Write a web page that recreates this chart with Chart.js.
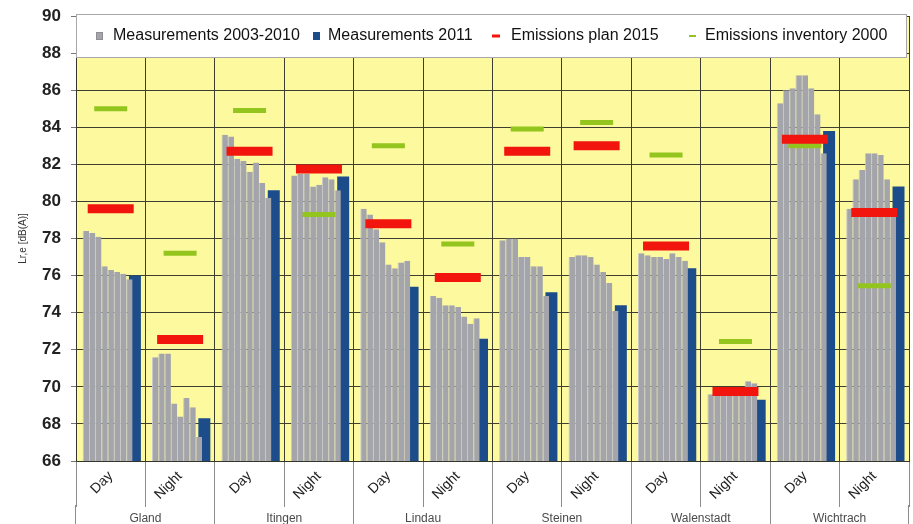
<!DOCTYPE html>
<html>
<head>
<meta charset="utf-8">
<title>Lr,e measurements by site</title>
<script src="https://cdn.jsdelivr.net/npm/chart.js@4/dist/chart.umd.min.js"></script>
<style>
  html, body { margin: 0; padding: 0; background: #ffffff; }
  #wrap { position: relative; width: 913px; height: 524px; }
</style>
</head>
<body>
<div id="wrap"><canvas id="chart"></canvas></div>
<script>
// Categories: day / night periods per site
const periods = ['Day', 'Night', 'Day', 'Night', 'Day', 'Night', 'Day', 'Night', 'Day', 'Night', 'Day', 'Night'];
const sites = ['Gland', 'Itingen', 'Lindau', 'Steinen', 'Walenstadt', 'Wichtrach'];

// Measured Lr,e per year, dB(A)
const m2003 = [78.4, 71.6, 83.6, 81.4, 79.6, 74.9, 77.9, 77.0, 77.2, 69.6, 85.3, 79.6];
const m2004 = [78.3, 71.8, 83.5, 81.5, 79.3, 74.8, 78.0, 77.1, 77.1, 69.6, 86.0, 81.2];
const m2005 = [78.1, 71.8, 82.3, 81.5, 78.5, 74.4, 78.0, 77.1, 77.0, 69.6, 86.1, 81.7];
const m2006 = [76.5, 69.1, 82.2, 80.8, 77.8, 74.4, 77.0, 77.0, 77.0, 69.6, 86.8, 82.6];
const m2007 = [76.3, 68.4, 81.6, 80.9, 76.6, 74.3, 77.0, 76.6, 76.9, 69.7, 86.8, 82.6];
const m2008 = [76.2, 69.4, 82.1, 81.3, 76.4, 73.8, 76.5, 76.2, 77.2, 69.6, 86.1, 82.5];
const m2009 = [76.1, 68.9, 81.0, 81.2, 76.7, 73.4, 76.5, 75.6, 77.0, 70.3, 84.7, 81.2];
const m2010 = [75.8, 67.3, 80.2, 80.6, 76.8, 73.7, 74.9, 74.1, 76.8, 70.2, 82.6, 79.5];
const m2011 = [76.0, 68.3, 80.6, 81.35, 75.4, 72.6, 75.1, 74.4, 76.4, 69.3, 83.8, 80.8];

// Reference levels
const plan2015 = [79.6, 72.55, 82.7, 81.75, 78.8, 75.9, 82.7, 83.0, 77.6, 69.75, 83.35, 79.4];
const inventory2000 = [85.0, 77.2, 84.9, 79.3, 83.0, 77.7, 83.9, 84.25, 82.5, 72.45, 83.0, 75.45];

// Value axis
const yMin = 66;
const yMax = 90;
const yStep = 2;

const legendLabels = ['Measurements 2003-2010', 'Measurements 2011', 'Emissions plan 2015', 'Emissions inventory 2000'];

const GREY = '#a4a4ab';
const GREY_EDGE = '#c8c8ce';
const BLUE = '#1d4c8a';
const RED = '#f2150e';
const GREEN = '#93c51e';
const PLOT_BG = '#fcf99e';
const GRID = '#3e3e30';
const SEP = '#8c8c8c';

Chart.defaults.font.family = '"Liberation Sans", Arial, sans-serif';

const greyYears = [
  ['2003', m2003], ['2004', m2004], ['2005', m2005], ['2006', m2006],
  ['2007', m2007], ['2008', m2008], ['2009', m2009], ['2010', m2010]
];

const datasets = greyYears.map(([yr, vals]) => ({
  label: 'Measurements ' + yr,
  data: vals,
  backgroundColor: GREY,
  borderColor: GREY_EDGE,
  borderWidth: { left: 1, right: 0, top: 0, bottom: 0 },
  categoryPercentage: 0.806,
  barPercentage: 1.04
}));

datasets.push({
  label: 'Measurements 2011',
  data: m2011,
  backgroundColor: BLUE,
  borderWidth: 0,
  categoryPercentage: 0.785,
  barPercentage: 1.98
});

datasets.push({
  type: 'line',
  label: 'Emissions plan 2015',
  data: plan2015,
  showLine: false,
  order: -1,
  borderColor: RED,
  backgroundColor: RED,
  pointStyle: 'line',
  pointRadius: 23,
  pointHoverRadius: 23,
  pointBorderWidth: 9,
  pointHoverBorderWidth: 9
});

datasets.push({
  type: 'line',
  label: 'Emissions inventory 2000',
  data: inventory2000,
  showLine: false,
  order: -1,
  borderColor: GREEN,
  backgroundColor: GREEN,
  pointStyle: 'line',
  pointRadius: 16.5,
  pointHoverRadius: 16.5,
  pointBorderWidth: 5,
  pointHoverBorderWidth: 5
});

// Keep the plot box fixed: scales may not push the chart area in
function noEdgePadding(s) {
  s.paddingTop = 0;
  s.paddingBottom = 0;
  s.paddingLeft = 0;
  s.paddingRight = 0;
}

// Yellow plot background and the boxed legend laid over the top of the plot
const plotFrame = {
  id: 'plotFrame',
  beforeDraw(chart) {
    const { ctx, chartArea: a } = chart;
    ctx.save();
    ctx.fillStyle = PLOT_BG;
    ctx.fillRect(a.left, a.top, a.right - a.left, a.bottom - a.top);
    ctx.restore();
  },
  afterDraw(chart) {
    const { ctx, chartArea: a, scales } = chart;
    const top = Math.round(a.top) - 1.5;
    const bottom = Math.round(scales.y.getPixelForValue(87.8)) + 0.5;
    const left = Math.round(a.left) + 0.5;
    const width = Math.round(a.right - a.left) - 3;
    ctx.save();
    ctx.fillStyle = '#ffffff';
    ctx.fillRect(left, top, width, bottom - top);
    ctx.strokeStyle = '#a8a8a8';
    ctx.lineWidth = 1;
    ctx.strokeRect(left, top, width, bottom - top);

    const cy = Math.round((top + bottom) / 2);
    const entries = [
      { kind: 'box', color: GREY, edge: '#8e8e94', key: 20, tx: 37 },
      { kind: 'box', color: BLUE, edge: BLUE, key: 237, tx: 252 },
      { kind: 'dash', color: RED, key: 416, tx: 435, w: 8, h: 3 },
      { kind: 'dash', color: GREEN, key: 613, tx: 629, w: 7, h: 2 }
    ];
    ctx.font = '16px "Liberation Sans", Arial, sans-serif';
    ctx.textBaseline = 'middle';
    ctx.textAlign = 'left';
    entries.forEach((e, i) => {
      const kx = a.left + e.key;
      if (e.kind === 'box') {
        ctx.fillStyle = e.color;
        ctx.fillRect(kx, cy - 4, 7, 8);
        ctx.strokeStyle = e.edge;
        ctx.strokeRect(kx + 0.5, cy - 3.5, 6, 7);
      } else {
        ctx.fillStyle = e.color;
        ctx.fillRect(kx, cy - e.h / 2, e.w, e.h);
      }
      ctx.fillStyle = '#111111';
      ctx.fillText(legendLabels[i], a.left + e.tx, cy);
    });
    ctx.restore();
  }
};

new Chart(document.getElementById('chart'), {
  type: 'bar',
  data: { labels: periods, datasets },
  plugins: [plotFrame],
  options: {
    responsive: true,
    maintainAspectRatio: false,
    devicePixelRatio: 1,
    animation: false,
    events: [],
    layout: { autoPadding: false, padding: { top: 16, right: 4, left: 0, bottom: 0 } },
    plugins: {
      legend: { display: false },
      tooltip: { enabled: false }
    },
    scales: {
      x: {
        type: 'category',
        offset: true,
        weight: 0,
        grid: {
          offset: true,
          color: GRID,
          lineWidth: 1,
          drawTicks: true,
          tickLength: 46,
          tickColor: SEP,
          tickWidth: 1
        },
        border: { display: true, color: '#35352b', width: 1 },
        ticks: {
          autoSkip: false,
          minRotation: 45,
          maxRotation: 45,
          padding: -39,
          color: '#1e1e1e',
          font: { size: 14 }
        },
        afterFit(s) { s.height = 44; noEdgePadding(s); }
      },
      x2: {
        type: 'category',
        labels: sites,
        position: 'bottom',
        offset: true,
        weight: 1,
        grid: {
          offset: true,
          drawOnChartArea: false,
          drawTicks: true,
          tickLength: 19,
          tickColor: SEP,
          tickWidth: 1
        },
        border: { display: false },
        ticks: {
          autoSkip: false,
          maxRotation: 0,
          padding: -13,
          color: '#4a4a4a',
          font: { size: 12 }
        },
        afterFit(s) { s.height = 19; noEdgePadding(s); }
      },
      y: {
        min: yMin,
        max: yMax,
        ticks: {
          stepSize: yStep,
          padding: 10,
          color: '#222222',
          font: { size: 17, weight: 'bold' }
        },
        grid: {
          color: GRID,
          lineWidth: 1,
          tickLength: 5,
          tickColor: '#777777'
        },
        border: { display: true, color: '#35352b', width: 1 },
        title: {
          display: true,
          text: 'Lr,e [dB(A)]',
          color: '#333333',
          font: { size: 10 },
          padding: { top: 17, bottom: 0 }
        },
        afterFit(s) { s.width = 76; noEdgePadding(s); }
      }
    }
  }
});
</script>
</body>
</html>
